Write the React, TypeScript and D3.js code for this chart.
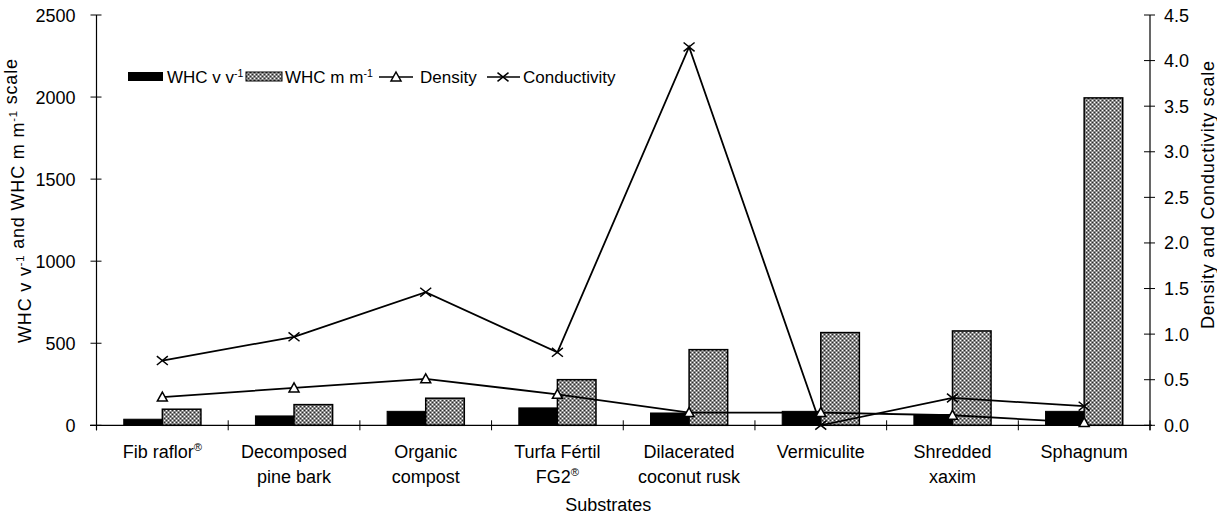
import React from "react";
import * as d3 from "d3";

const categories: string[][] = [
  ["Fib raflor®"],
  ["Decomposed", "pine bark"],
  ["Organic", "compost"],
  ["Turfa Fértil", "FG2®"],
  ["Dilacerated", "coconut rusk"],
  ["Vermiculite"],
  ["Shredded", "xaxim"],
  ["Sphagnum"],
];
const whcV = [37, 57, 85, 106, 75, 85, 65, 85];
const whcM = [98, 126, 165, 278, 461, 565, 575, 1995];
const density = [0.31, 0.41, 0.51, 0.34, 0.14, 0.14, 0.11, 0.03];
const conductivity = [0.71, 0.97, 1.46, 0.8, 4.15, 0.0, 0.3, 0.21];
const leftTicks = [0, 500, 1000, 1500, 2000, 2500];
const rightTicks = [0, 0.5, 1, 1.5, 2, 2.5, 3, 3.5, 4, 4.5];

const W = 1217;
const H = 516;
const L = 96.5;
const R = 1150;
const T = 15;
const B = 425.3;
const FONT = "'Liberation Sans', Arial, sans-serif";
const FS = 18;
const LFS = 17;

function Label({ text, x, y, size, anchor, textLength }: { text: string; x: number; y: number; size: number; anchor: string; textLength?: number }) {
  const parts: React.ReactNode[] = [];
  const re = /(®|\^-1)/g;
  let last = 0;
  let m: RegExpExecArray | null;
  let k = 0;
  while ((m = re.exec(text))) {
    if (m.index > last) parts.push(<tspan key={k++}>{text.slice(last, m.index)}</tspan>);
    const s = m[1] === "®" ? "®" : "-1";
    parts.push(
      <tspan key={k++} fontSize={size * 0.62} dy={-size * 0.38}>
        {s}
      </tspan>
    );
    parts.push(<tspan key={k++} dy={size * 0.38}>{""}</tspan>);
    last = m.index + m[1].length;
  }
  if (last < text.length) parts.push(<tspan key={k++}>{text.slice(last)}</tspan>);
  return (
    <text
      x={x}
      y={y}
      fontSize={size}
      textAnchor={anchor}
      fontFamily={FONT}
      fill="#000"
      {...(textLength ? { textLength, lengthAdjust: "spacing" } : {})}
    >
      {parts}
    </text>
  );
}

export default function App() {
  const x = d3.scaleBand<number>().domain(d3.range(categories.length)).range([L, R]).padding(0);
  const yL = d3.scaleLinear().domain([0, 2500]).range([B, T]);
  const yR = d3.scaleLinear().domain([0, 4.5]).range([B, T]);
  const bw = x.bandwidth() * 0.293;
  const cx = (i: number) => (x(i) as number) + x.bandwidth() / 2;

  const dLine = d3.line<number>().x((_, i) => cx(i)).y((d) => yR(d));

  const tri = (px: number, py: number, s = 5) =>
    `M${px},${py - s} L${px + s},${py + s * 0.8} L${px - s},${py + s * 0.8} Z`;
  const cross = (px: number, py: number, s = 5.5) =>
    `M${px - s},${py - s * 0.8} L${px + s},${py + s * 0.8} M${px - s},${py + s * 0.8} L${px + s},${py - s * 0.8}`;

  const legY = 77;

  return (
    <svg width={W} height={H} style={{ position: "absolute", left: 0, top: 0, background: "#fff" }}>
      <defs>
        <pattern id="hatch" patternUnits="userSpaceOnUse" width={4} height={4}>
          <rect width={4} height={4} fill="#8a8a8a" />
          <rect x={0} y={0} width={1} height={1} fill="#ffffff" />
          <rect x={2} y={2} width={1} height={1} fill="#ffffff" />
          <rect x={2} y={0} width={1} height={1} fill="#2a2a2a" />
          <rect x={0} y={2} width={1} height={1} fill="#2a2a2a" />
        </pattern>
      </defs>

      {/* bars */}
      {whcV.map((v, i) => (
        <rect key={"v" + i} x={cx(i) - bw} y={yL(v)} width={bw} height={B - yL(v)} fill="#000" stroke="#000" strokeWidth={1} />
      ))}
      {whcM.map((v, i) => (
        <rect key={"m" + i} x={cx(i)} y={yL(v)} width={bw} height={B - yL(v)} fill="url(#hatch)" stroke="#000" strokeWidth={1.5} />
      ))}

      {/* x axis */}
      <line x1={90} x2={R + 2} y1={B} y2={B} stroke="#000" strokeWidth={1.2} />
      {d3.range(categories.length + 1).map((i) => {
        const xx = L + i * x.bandwidth();
        return <line key={"xt" + i} x1={xx} x2={xx} y1={B - 5} y2={B + 5} stroke="#000" strokeWidth={1} />;
      })}

      {/* left axis */}
      <line x1={L} x2={L} y1={T} y2={B + 5} stroke="#000" strokeWidth={1.2} />
      {leftTicks.map((t) => (
        <g key={"lt" + t}>
          <line x1={L - 6} x2={L + 5} y1={yL(t)} y2={yL(t)} stroke="#000" strokeWidth={1} />
          <text x={L - 21} y={yL(t) + 6.5} fontSize={FS} textAnchor="end" fontFamily={FONT}>
            {t}
          </text>
        </g>
      ))}

      {/* right axis */}
      <line x1={R} x2={R} y1={T} y2={B + 5} stroke="#000" strokeWidth={1.2} />
      {rightTicks.map((t) => (
        <g key={"rt" + t}>
          <line x1={R - 6} x2={R + 5} y1={yR(t)} y2={yR(t)} stroke="#000" strokeWidth={1} />
          <text x={R + 14} y={yR(t) + 6.5} fontSize={FS} textAnchor="start" fontFamily={FONT}>
            {t.toFixed(1)}
          </text>
        </g>
      ))}

      {/* lines */}
      <path d={dLine(density) || ""} fill="none" stroke="#000" strokeWidth={1.8} />
      <path d={dLine(conductivity) || ""} fill="none" stroke="#000" strokeWidth={1.8} />
      {density.map((d, i) => (
        <path key={"dm" + i} d={tri(cx(i), yR(d))} fill="#fff" stroke="#000" strokeWidth={1.5} />
      ))}
      {conductivity.map((d, i) => (
        <path key={"cm" + i} d={cross(cx(i), yR(d))} fill="none" stroke="#000" strokeWidth={1.5} />
      ))}

      {/* category labels */}
      {categories.map((lines, i) =>
        lines.map((ln, j) => (
          <Label key={"c" + i + j} text={ln} x={cx(i)} y={458 + j * 25} size={FS} anchor="middle" />
        ))
      )}
      <text x={(L + R) / 2 - 15} y={511} fontSize={FS} textAnchor="middle" fontFamily={FONT}>
        Substrates
      </text>

      {/* axis titles */}
      <g transform={`translate(31,${201}) rotate(-90)`}>
        <Label text="WHC v v^-1 and WHC m m^-1 scale" x={0} y={0} size={FS} anchor="middle" textLength={284} />
      </g>
      <g transform={`translate(1214,${195}) rotate(-90)`}>
        <text x={0} y={0} fontSize={FS} textAnchor="middle" fontFamily={FONT} textLength={268} lengthAdjust="spacing">
          Density and Conductivity scale
        </text>
      </g>

      {/* legend */}
      <rect x={128} y={legY - 5} width={35} height={9} fill="#000" />
      <Label text="WHC v v^-1" x={167} y={legY + 6} size={LFS} anchor="start" />
      <rect x={246} y={legY - 5} width={36} height={9} fill="url(#hatch)" stroke="#000" strokeWidth={1} />
      <Label text="WHC m m^-1" x={285} y={legY + 6} size={LFS} anchor="start" />
      <line x1={379} x2={413} y1={legY} y2={legY} stroke="#000" strokeWidth={1.5} />
      <path d={tri(396, legY)} fill="#fff" stroke="#000" strokeWidth={1.5} />
      <text x={420} y={legY + 6} fontSize={LFS} fontFamily={FONT}>
        Density
      </text>
      <line x1={487} x2={520} y1={legY} y2={legY} stroke="#000" strokeWidth={1.5} />
      <path d={cross(503, legY)} fill="none" stroke="#000" strokeWidth={1.5} />
      <text x={523} y={legY + 6} fontSize={LFS} fontFamily={FONT}>
        Conductivity
      </text>
    </svg>
  );
}
